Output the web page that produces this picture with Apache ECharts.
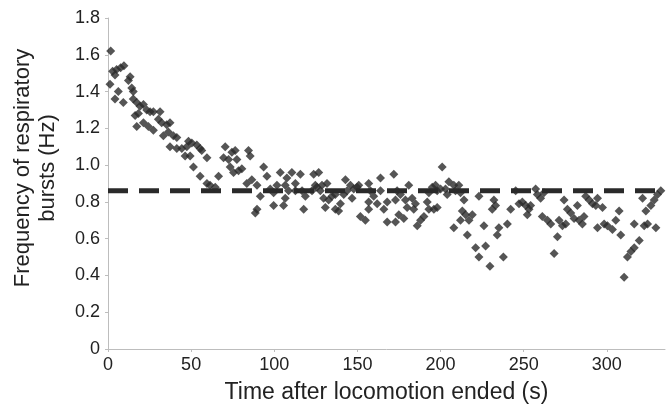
<!DOCTYPE html>
<html>
<head>
<meta charset="utf-8">
<script src="https://cdn.jsdelivr.net/npm/echarts@6/dist/echarts.min.js"></script>
<style>
html,body{margin:0;padding:0;background:#fff;}
#chart{width:667px;height:411px;}
</style>
</head>
<body>
<div id="chart"></div>
<script>
// Time after locomotion ended (s)
const timeS = [
1.6,2.8,5.2,7.6,9.6,4.2,1.2,13.3,12.3,14.3,15.2,6.2,4.2,9.2,15.2,17.3,19.3,21.3,16.3,18.3,
23.3,25.3,27.3,31.3,17.3,21.3,24.3,27.3,30.3,32.3,35.3,37.3,33.3,36.3,39.3,41.4,37.3,41.4,44.4,47.4,
48.4,50.4,53.4,55.4,56.4,59.5,46.4,49.4,51.4,55.4,59.5,61.4,64.5,66.5,70.5,69.5,72.5,74.5,76.5,77.5,
84.5,85.5,73.5,75.5,78.5,80.5,83.5,86.5,89.6,91.6,88.6,89.6,93.6,95.6,97.6,99.6,101.6,99.6,
103.6,107.6,110.6,112.7,115.7,106.6,108.6,112.7,116.7,106.6,105.6,118.7,117.7,123.7,126.7,124.7,122.7,125.7,128.7,127.7,
131.7,129.7,132.7,134.7,136.7,130.7,136.7,138.7,139.8,142.8,145.8,147.8,149.8,150.8,143.8,141.8,146.8,151.8,154.8,156.8,
157.8,159.8,156.8,163.9,163.9,161.9,156.8,165.9,167.9,171.9,173.9,172.9,175.9,178.9,180.9,179.9,177.9,167.9,172.9,174.9,
182.9,184.9,183.9,188.0,186.0,190.0,192.0,193.0,195.0,197.0,198.0,200.0,201.0,203.0,204.0,205.0,208.0,209.0,211.0,212.0,
214.1,193.0,196.0,198.0,213.1,215.1,219.1,212.0,217.1,208.0,216.1,221.1,223.1,223.1,
226.1,227.1,229.7,237.8,232.1,233.1,231.1,235.1,234.1,240.2,242.2,245.2,247.2,249.2,251.2,253.2,252.2,254.2,257.2,258.2,
260.2,262.2,261.2,264.3,266.3,268.3,270.3,271.3,273.3,275.3,274.3,276.3,278.3,280.3,282.3,283.3,285.3,286.3,287.3,289.4,
291.4,293.4,294.4,297.4,294.4,298.4,300.4,303.4,305.4,307.4,308.4,310.4,312.4,314.5,316.5,316.5,319.5,321.5,323.5,322.5,
324.5,326.5,328.5,330.5,332.5,329.5
];
// Frequency of respiratory bursts (Hz)
const freqHz = [
1.62,1.51,1.52,1.53,1.54,1.49,1.44,1.48,1.46,1.42,1.40,1.40,1.36,1.34,1.36,1.34,1.32,1.33,1.27,1.28,
1.30,1.29,1.29,1.29,1.21,1.23,1.21,1.19,1.25,1.23,1.22,1.23,1.16,1.18,1.16,1.15,1.10,1.09,1.09,1.10,
1.13,1.12,1.11,1.09,1.08,1.04,1.05,1.05,0.99,0.94,0.90,0.89,0.88,0.94,1.10,1.04,1.03,1.07,1.08,1.03,
1.08,1.05,0.99,0.96,0.97,0.98,0.90,0.92,0.89,0.83,0.74,0.76,0.99,0.94,0.87,0.85,0.89,0.78,
0.96,0.93,0.96,0.90,0.95,0.89,0.86,0.86,0.86,0.82,0.78,0.83,0.76,0.95,0.96,0.89,0.86,0.88,0.89,0.86,
0.90,0.82,0.81,0.83,0.84,0.77,0.76,0.75,0.79,0.92,0.89,0.87,0.88,0.89,0.86,0.84,0.82,0.72,0.70,0.90,
0.86,0.83,0.80,0.93,0.86,0.79,0.76,0.76,0.80,0.95,0.86,0.81,0.84,0.81,0.89,0.77,0.71,0.69,0.69,0.73,
0.82,0.79,0.76,0.70,0.67,0.72,0.80,0.85,0.88,0.89,0.86,0.87,0.99,0.87,0.84,0.91,0.89,0.86,0.89,0.85,
0.81,0.76,0.76,0.77,0.75,0.73,0.73,0.70,0.70,0.66,0.62,0.55,0.50,0.83,
0.67,0.56,0.45,0.50,0.81,0.78,0.76,0.66,0.62,0.68,0.76,0.86,0.79,0.80,0.78,0.76,0.73,0.78,0.87,0.84,
0.82,0.85,0.72,0.70,0.68,0.52,0.61,0.70,0.67,0.68,0.81,0.76,0.74,0.71,0.78,0.70,0.68,0.72,0.83,0.81,
0.79,0.78,0.82,0.77,0.66,0.68,0.67,0.65,0.70,0.75,0.62,0.39,0.50,0.53,0.55,0.68,0.59,0.82,0.75,0.67,
0.68,0.78,0.81,0.84,0.86,0.66
];
// Dashed reference level
const refX = [0, 335];
const refLevel = 0.86;
// Axis ticks
const xTicks = [0, 50, 100, 150, 200, 250, 300];
const yTickLabels = ['0','0.2','0.4','0.6','0.8','1.0','1.2','1.4','1.6','1.8'];

const points = timeS.map((t, i) => [t, freqHz[i]]);
const refLine = refX.map(t => [t, refLevel]);

const chart = echarts.init(document.getElementById('chart'), null, {renderer: 'canvas'});
const font = 'Liberation Sans, Arial, Helvetica, sans-serif';
const textColor = '#222';
chart.setOption({
  animation: false,
  backgroundColor: '#fff',
  grid: {left: 108, right: 2, top: 18, bottom: 62, containLabel: false},
  xAxis: {
    type: 'value', min: 0, max: 335, interval: 50,
    name: 'Time after locomotion ended (s)',
    nameLocation: 'middle', nameGap: 32,
    nameTextStyle: {fontFamily: font, fontSize: 23, color: textColor},
    axisLine: {show: true, lineStyle: {color: '#bdbdbd', width: 1}},
    axisTick: {show: true, length: 3, lineStyle: {color: '#bdbdbd'}},
    axisLabel: {fontFamily: font, fontSize: 18, color: textColor, margin: 7, showMaxLabel: false,
      formatter: v => xTicks.indexOf(v) >= 0 ? String(v) : ''},
    splitLine: {show: false}
  },
  yAxis: {
    type: 'value', min: 0, max: 1.8, interval: 0.2,
    axisLine: {show: true, lineStyle: {color: '#bdbdbd', width: 1}},
    axisTick: {show: true, length: 3, lineStyle: {color: '#bdbdbd'}},
    axisLabel: {fontFamily: font, fontSize: 18, color: textColor, margin: 8,
      formatter: v => yTickLabels[Math.round(v / 0.2)]},
    splitLine: {show: false}
  },
  graphic: [{
    type: 'text', x: 35, y: 168, rotation: Math.PI / 2,
    style: {text: 'Frequency of respiratory\nbursts (Hz)', font: '22px ' + font,
      fill: textColor, align: 'center', verticalAlign: 'middle', lineHeight: 25}
  }],
  series: [
    {
      type: 'line', data: refLine, symbol: 'none', z: 1,
      lineStyle: {color: '#2a2a2a', width: 5, type: [20, 11]}
    },
    {
      type: 'scatter', data: points, symbol: 'diamond', symbolSize: 9, z: 2,
      itemStyle: {color: '#2a2a2a'}
    }
  ]
});
</script>
</body>
</html>
